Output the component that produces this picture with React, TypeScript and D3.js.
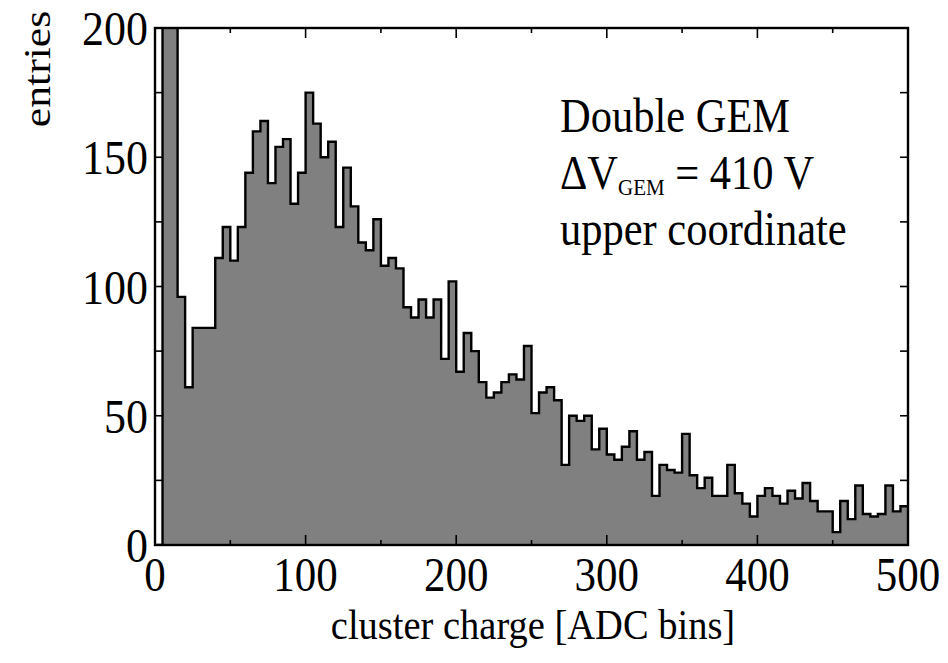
import * as d3 from "d3";

// bin lower edges, width 5 ADC bins
const binWidth = 5;
const binStarts = d3.range(0, 500, binWidth);
// entries per bin (first two spikes run off the top of the frame)
const entries = [
  0, 260, 240, 96, 61, 84, 84, 84, 111, 123,
  110, 123, 144, 160, 164, 140, 154, 157, 132, 144,
  175, 163, 150, 156, 123, 146, 131, 117, 114, 126,
  108, 111, 107, 92, 88, 95, 88, 95, 72, 102,
  67, 82, 75, 63, 57, 59, 63, 66, 64, 77,
  51, 59, 61, 56, 31, 50, 48, 50, 37, 45,
  35, 33, 38, 44, 33, 36, 19, 31, 29, 28,
  43, 27, 22, 26, 19, 19, 31, 20, 16, 11,
  19, 22, 19, 16, 21, 18, 24, 17, 13, 13,
  5, 17, 10, 23, 12, 11, 12, 23, 13, 15,
];
const xTicksMajor = [0, 100, 200, 300, 400, 500];
const xTicksMinor = [50, 150, 250, 350, 450];
const yTickLabels = [0, 50, 100, 150, 200];
const yTicks = d3.range(0, 201, 25);

const W = 948;
const H = 663;
const frame = { left: 155, right: 908, top: 28, bottom: 545 };
const K = 1.12; // slight vertical stretch of the lettering
const FONT = "'Liberation Serif', 'Times New Roman', serif";

export default function App() {
  const x = d3.scaleLinear().domain([0, 500]).range([frame.left, frame.right]);
  const y = d3.scaleLinear().domain([0, 200]).range([frame.bottom, frame.top]);

  const pts: [number, number][] = binStarts.map((b, i) => [b, entries[i]]);
  pts.push([500, entries[entries.length - 1]]);

  const area = d3
    .area<[number, number]>()
    .x((d) => x(d[0]))
    .y0(y(0))
    .y1((d) => y(d[1]))
    .curve(d3.curveStepAfter);
  const line = d3
    .line<[number, number]>()
    .x((d) => x(d[0]))
    .y((d) => y(d[1]))
    .curve(d3.curveStepAfter);

  const txt = (
    tx: number,
    ty: number,
    s: string,
    size: number,
    anchor: string = "start",
    key?: string | number
  ) => (
    <text
      key={key}
      transform={`translate(${tx},${ty}) scale(1,${K})`}
      fontSize={size}
      fontFamily={FONT}
      textAnchor={anchor}
      fill="#000"
    >
      {s}
    </text>
  );

  return (
    <svg
      width={W}
      height={H}
      style={{ position: "absolute", left: 0, top: 0, background: "#fff" }}
    >
      <defs>
        <clipPath id="plot">
          <rect
            x={frame.left}
            y={frame.top}
            width={frame.right - frame.left}
            height={frame.bottom - frame.top}
          />
        </clipPath>
      </defs>

      <g clipPath="url(#plot)">
        <path d={area(pts) ?? ""} fill="#808080" />
        <path
          d={line(pts) ?? ""}
          fill="none"
          stroke="#000"
          strokeWidth={2.4}
          strokeLinejoin="miter"
        />
      </g>

      {/* ticks, pointing inwards on all four sides */}
      <g stroke="#000" strokeWidth={1.6}>
        {yTicks.map((t) => (
          <g key={"y" + t}>
            <line x1={frame.left} x2={frame.left + 8} y1={y(t)} y2={y(t)} />
            <line x1={frame.right} x2={frame.right - 8} y1={y(t)} y2={y(t)} />
          </g>
        ))}
        {xTicksMajor.map((t) => (
          <g key={"xM" + t}>
            <line x1={x(t)} x2={x(t)} y1={frame.top} y2={frame.top + 10} />
            <line x1={x(t)} x2={x(t)} y1={frame.bottom} y2={frame.bottom - 10} />
          </g>
        ))}
        {xTicksMinor.map((t) => (
          <g key={"xm" + t}>
            <line x1={x(t)} x2={x(t)} y1={frame.top} y2={frame.top + 5} />
            <line x1={x(t)} x2={x(t)} y1={frame.bottom} y2={frame.bottom - 5} />
          </g>
        ))}
      </g>

      <rect
        x={frame.left}
        y={frame.top}
        width={frame.right - frame.left}
        height={frame.bottom - frame.top}
        fill="none"
        stroke="#000"
        strokeWidth={2.4}
      />

      {/* tick labels */}
      {yTickLabels.map((t) => txt(148, y(t) + 17, String(t), 44, "end", "yl" + t))}
      {xTicksMajor.map((t) => txt(x(t), 591, String(t), 43, "middle", "xl" + t))}

      {/* axis titles */}
      {txt(533, 639, "cluster charge [ADC bins]", 38.5, "middle")}
      <text
        transform={`translate(50,69) rotate(-90) scale(${K},1)`}
        fontSize={39}
        fontFamily={FONT}
        textAnchor="middle"
        fill="#000"
      >
        entries
      </text>

      {/* annotation */}
      {txt(560, 132, "Double GEM", 42.5)}
      <text
        transform={`translate(560,189) scale(1,${K})`}
        fontSize={42.5}
        fontFamily={FONT}
        fill="#000"
      >
        ΔV
        <tspan fontSize={21} dy={5}>
          GEM
        </tspan>
        <tspan dy={-5}> = 410 V</tspan>
      </text>
      {txt(560, 245, "upper coordinate", 42.5)}
    </svg>
  );
}
